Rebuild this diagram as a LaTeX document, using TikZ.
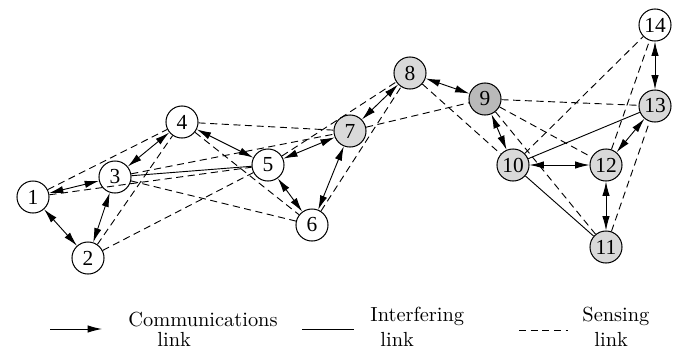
\documentclass[tikz,border=0pt]{standalone}
\usepackage{fontspec}
\newfontfamily\knotenfont{Liberation Serif}
\usetikzlibrary{arrows.meta}

\begin{document}
\begin{tikzpicture}[x=0.49pt, y=-0.49pt,
		>={Latex[length=7pt,width=3.6pt]},
		knoten/.style={circle, draw, line width=0.5pt, minimum size=15.7pt, inner sep=0pt,
			font=\knotenfont\fontsize{10.5}{11}\selectfont},
		aktiv/.style={knoten, fill=gray!30},
		zentral/.style={knoten, fill=gray!55},
		komm/.style={<->, line width=0.45pt},
		interf/.style={line width=0.45pt},
		sens/.style={dash pattern=on 3.5pt off 2.2pt, line width=0.45pt},
		legtext/.style={anchor=base west, inner sep=0pt}]
		\useasboundingbox (0, 0) rectangle (674, 347);
		% Knoten
		\node [knoten] (n1) at (33, 197) {1};
		\node [knoten] (n2) at (88, 258) {2};
		\node [knoten] (n3) at (115, 177) {3};
		\node [knoten] (n4) at (182, 122) {4};
		\node [knoten] (n5) at (268, 165) {5};
		\node [knoten] (n6) at (312, 225) {6};
		\node [aktiv] (n7) at (350, 131) {7};
		\node [aktiv] (n8) at (410, 73) {8};
		\node [zentral] (n9) at (485, 99) {9};
		\node [aktiv] (n10) at (513, 165) {10};
		\node [aktiv] (n11) at (606, 247) {11};
		\node [aktiv] (n12) at (606, 165) {12};
		\node [aktiv] (n13) at (655, 106) {13};
		\node [knoten] (n14) at (655, 25) {14};
		% Kommunikationslinks
		\draw [komm] (n1) -- (n2);
		\draw [komm] (n1) -- (n3);
		\draw [komm] (n2) -- (n3);
		\draw [komm] (n3) -- (n4);
		\draw [komm] (n4) -- (n5);
		\draw [komm] (n5) -- (n6);
		\draw [komm] (n5) -- (n7);
		\draw [komm] (n6) -- (n7);
		\draw [komm] (n7) -- (n8);
		\draw [komm] (n8) -- (n9);
		\draw [komm] (n9) -- (n10);
		\draw [komm] (n10) -- (n12);
		\draw [komm] (n12) -- (n13);
		\draw [komm] (n12) -- (n11);
		\draw [komm] (n13) -- (n14);
		% Interferenzlinks
		\draw [interf] (n3) -- (n5);
		\draw [interf] (n10) -- (n13);
		\draw [interf] (n10) -- (n11);
		% Sensing-Links
		\draw [sens] (n1) -- (n4);
		\draw [sens] (n1) -- (n5);
		\draw [sens] (n2) -- (n4);
		\draw [sens] (n2) -- (n5);
		\draw [sens] (n3) -- (n6);
		\draw [sens] (n3) -- (n7);
		\draw [sens] (n4) -- (n6);
		\draw [sens] (n4) -- (n7);
		\draw [sens] (n5) -- (n8);
		\draw [sens] (n6) -- (n8);
		\draw [sens] (n7) -- (n9);
		\draw [sens] (n8) -- (n10);
		\draw [sens] (n9) -- (n11);
		\draw [sens] (n9) -- (n12);
		\draw [sens] (n9) -- (n13);
		\draw [sens] (n10) -- (n14);
		\draw [sens] (n12) -- (n14);
		\draw [sens] (n11) -- (n13);
		% Legende
		\begin{scope}
			\coordinate (kA) at (50, 329);
			\coordinate (kB) at (102, 329);
			\draw [->, line width=0.45pt] (kA) -- (kB);
			\node [legtext] (tKomm) at (128, 326) {Communications};
			\node [legtext] (tKommL) at (157, 346) {link};
			\coordinate (iA) at (302, 329);
			\coordinate (iB) at (354, 329);
			\draw [interf] (iA) -- (iB);
			\node [legtext] (tInt) at (370, 321) {Interfering};
			\node [legtext] (tIntL) at (380, 346) {link};
			\coordinate (sA) at (519, 330);
			\coordinate (sB) at (568, 330);
			\draw [sens] (sA) -- (sB);
			\node [legtext] (tSens) at (582, 321) {Sensing};
			\node [legtext] (tSensL) at (594, 346) {link};
		\end{scope}
	\end{tikzpicture}
\end{document}
